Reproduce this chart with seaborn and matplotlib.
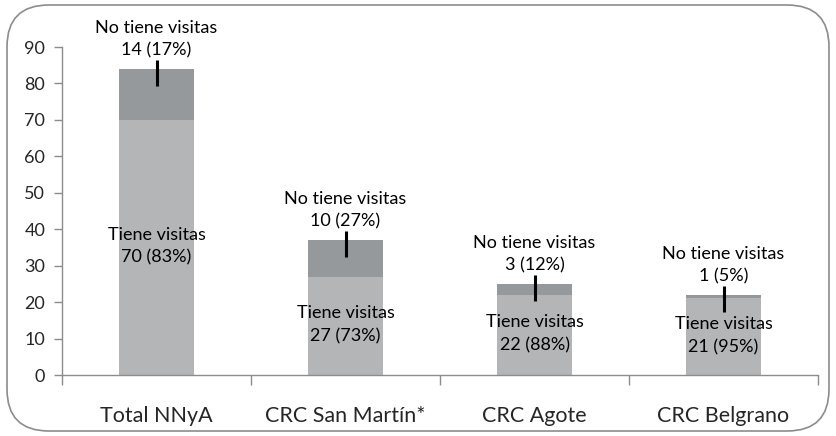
import matplotlib
matplotlib.use("Agg")
import matplotlib.pyplot as plt
from matplotlib.patches import FancyBboxPatch
import seaborn as sns
import pandas as pd

categorias = ["Total NNyA", "CRC San Martín*", "CRC Agote", "CRC Belgrano"]
tiene_visitas = [70, 27, 22, 21]
no_tiene_visitas = [14, 10, 3, 1]
pct_tiene = [83, 73, 88, 95]
pct_no_tiene = [17, 27, 12, 5]
y_ticks = [0, 10, 20, 30, 40, 50, 60, 70, 80, 90]

sns.set_theme(style="white")
plt.rcParams["font.family"] = ["Lato", "DejaVu Sans"]

totales = [a + b for a, b in zip(tiene_visitas, no_tiene_visitas)]
df = pd.DataFrame({"categoria": categorias, "tiene": tiene_visitas,
                   "total": totales})

fig = plt.figure(figsize=(8.36, 4.36), dpi=100)
ax = fig.add_axes([62 / 836, 1 - 375 / 436, (818 - 62) / 836, (375 - 47) / 436])

# outer rounded frame
frame = FancyBboxPatch((7 / 836, 5 / 436), 822 / 836, 426 / 436,
                       boxstyle="round,pad=0,rounding_size=0.05",
                       transform=fig.transFigure, fill=False,
                       edgecolor="#8c8c8c", linewidth=1.2, zorder=0,
                       mutation_aspect=836 / 436)
fig.patches.append(frame)

light = "#b3b5b6"
dark = "#96999b"

sns.barplot(data=df, x="categoria", y="total", color=dark, width=0.4,
            saturation=1, ax=ax, linewidth=0)
sns.barplot(data=df, x="categoria", y="tiene", color=light, width=0.4,
            saturation=1, ax=ax, linewidth=0)

for i, (t, n, tot, pt, pn) in enumerate(zip(tiene_visitas, no_tiene_visitas,
                                            totales, pct_tiene, pct_no_tiene)):
    ax.vlines(i, tot - 4.7, tot + 2.4, color="black", linewidth=2.2, zorder=5)
    ax.text(i, tot + 2.9, f"No tiene visitas\n{n} ({pn}%)", ha="center",
            va="bottom", fontsize=13, color="black", linespacing=1.5)
    ax.text(i, t / 2 + 0.3, f"Tiene visitas\n{t} ({pt}%)", ha="center",
            va="center", fontsize=13, color="black", linespacing=1.5)

ax.set_ylim(0, 90)
ax.set_xlim(-0.5, 3.5)
ax.set_yticks(y_ticks)
ax.set_yticklabels([str(v) for v in y_ticks], fontsize=13)
ax.set_xlabel("")
ax.set_ylabel("")

# category ticks sit on the boundaries between groups
ax.set_xticks([-0.5, 0.5, 1.5, 2.5, 3.5], minor=False)
ax.set_xticklabels([])
ax.set_xticks([0, 1, 2, 3], minor=True)
ax.set_xticklabels(categorias, minor=True, fontsize=15.5)
ax.tick_params(axis="x", which="major", direction="out", length=7,
               width=1, color="#8c8c8c", bottom=True)
ax.tick_params(axis="x", which="minor", length=0, pad=22)
ax.tick_params(axis="y", direction="out", length=6, width=1,
               color="#8c8c8c", left=True, pad=6)

for side in ["top", "right"]:
    ax.spines[side].set_visible(False)
for side in ["left", "bottom"]:
    ax.spines[side].set_color("#8c8c8c")
    ax.spines[side].set_linewidth(1)
ax.set_facecolor("none")

fig.savefig("out.png", dpi=100)
